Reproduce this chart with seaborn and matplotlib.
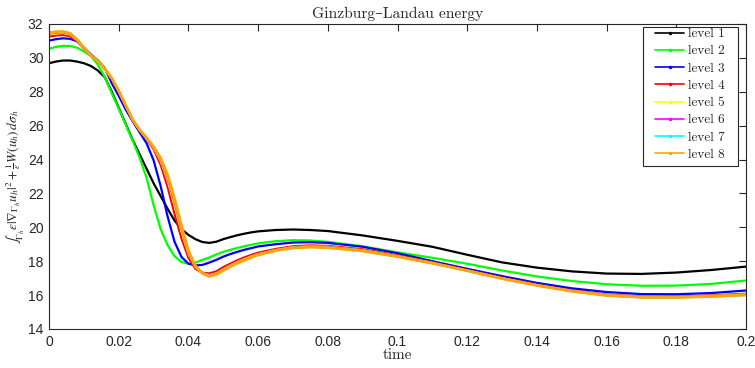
import numpy as np
import pandas as pd
import matplotlib
matplotlib.use("Agg")
import matplotlib.pyplot as plt
from matplotlib.lines import Line2D
from matplotlib.patches import Rectangle
import seaborn as sns

# time samples (s): fine steps through the fast transient, coarser afterwards
times = [0.000, 0.002, 0.004, 0.006, 0.008, 0.010, 0.012, 0.014, 0.016, 0.018,
         0.020, 0.022, 0.024, 0.026, 0.028, 0.030, 0.032, 0.034, 0.036, 0.038,
         0.040, 0.042, 0.044, 0.046, 0.048, 0.050, 0.052, 0.054, 0.056, 0.058,
         0.060, 0.065, 0.070, 0.075, 0.080, 0.090, 0.100, 0.110, 0.120, 0.130,
         0.140, 0.150, 0.160, 0.170, 0.180, 0.190, 0.200]

# discrete Ginzburg-Landau energy per refinement level
level1 = [29.68, 29.78, 29.84, 29.84, 29.78, 29.68, 29.52, 29.25, 28.85, 28.00,
          27.05, 26.10, 25.15, 24.30, 23.45, 22.60, 21.85, 21.10, 20.40, 19.90,
          19.55, 19.30, 19.13, 19.08, 19.15, 19.30, 19.42, 19.53, 19.62, 19.70,
          19.76, 19.84, 19.87, 19.84, 19.78, 19.52, 19.20, 18.85, 18.38, 17.93,
          17.62, 17.40, 17.27, 17.25, 17.33, 17.48, 17.68]
level2 = [30.53, 30.65, 30.70, 30.70, 30.60, 30.38, 30.10, 29.60, 28.85, 27.90,
          27.00, 26.05, 25.10, 24.10, 22.90, 21.30, 19.90, 18.95, 18.30, 17.95,
          17.85, 17.92, 18.08, 18.22, 18.40, 18.55, 18.67, 18.78, 18.88, 18.97,
          19.05, 19.18, 19.24, 19.22, 19.14, 18.88, 18.52, 18.20, 17.85, 17.45,
          17.10, 16.83, 16.64, 16.55, 16.56, 16.66, 16.86]
level3 = [31.02, 31.10, 31.15, 31.12, 30.98, 30.60, 30.20, 29.85, 29.40, 28.50,
          27.75, 26.95, 26.25, 25.60, 24.95, 23.95, 22.45, 20.65, 19.15, 18.25,
          17.85, 17.75, 17.78, 17.92, 18.08, 18.27, 18.42, 18.55, 18.67, 18.77,
          18.87, 19.00, 19.10, 19.12, 19.08, 18.85, 18.47, 18.00, 17.55, 17.12,
          16.72, 16.40, 16.18, 16.06, 16.05, 16.12, 16.27]
level4 = [31.25, 31.32, 31.35, 31.28, 31.00, 30.55, 30.15, 29.80, 29.35, 28.75,
          27.98, 27.15, 26.32, 25.72, 25.22, 24.60, 23.70, 22.40, 20.80, 19.35,
          18.20, 17.55, 17.32, 17.28, 17.40, 17.65, 17.85, 18.05, 18.22, 18.37,
          18.50, 18.72, 18.88, 18.93, 18.90, 18.70, 18.35, 17.93, 17.48, 17.03,
          16.62, 16.28, 16.03, 15.92, 15.91, 15.98, 16.08]
level5 = [31.38, 31.44, 31.46, 31.37, 31.05, 30.58, 30.15, 29.80, 29.35, 28.78,
          28.02, 27.18, 26.34, 25.74, 25.25, 24.68, 23.92, 22.80, 21.30, 19.75,
          18.42, 17.65, 17.30, 17.18, 17.28, 17.53, 17.75, 17.95, 18.12, 18.28,
          18.42, 18.66, 18.83, 18.87, 18.85, 18.65, 18.30, 17.90, 17.45, 17.00,
          16.59, 16.25, 16.00, 15.89, 15.88, 15.95, 16.04]
level6 = [31.43, 31.49, 31.51, 31.41, 31.06, 30.59, 30.15, 29.80, 29.35, 28.79,
          28.04, 27.19, 26.35, 25.75, 25.26, 24.72, 24.00, 22.95, 21.50, 19.92,
          18.50, 17.68, 17.29, 17.14, 17.25, 17.50, 17.72, 17.92, 18.08, 18.24,
          18.40, 18.64, 18.81, 18.85, 18.83, 18.63, 18.29, 17.89, 17.44, 16.99,
          16.58, 16.24, 15.99, 15.88, 15.87, 15.93, 16.02]
level7 = [31.46, 31.52, 31.53, 31.43, 31.08, 30.60, 30.15, 29.80, 29.35, 28.80,
          28.05, 27.20, 26.35, 25.75, 25.27, 24.74, 24.05, 23.05, 21.62, 20.02,
          18.56, 17.70, 17.29, 17.12, 17.23, 17.47, 17.70, 17.90, 18.06, 18.23,
          18.38, 18.63, 18.80, 18.84, 18.82, 18.62, 18.28, 17.88, 17.43, 16.98,
          16.57, 16.23, 15.98, 15.87, 15.86, 15.92, 16.01]
level8 = [31.49, 31.54, 31.55, 31.45, 31.10, 30.60, 30.15, 29.80, 29.35, 28.80,
          28.05, 27.20, 26.35, 25.75, 25.28, 24.75, 24.10, 23.10, 21.70, 20.10,
          18.60, 17.72, 17.28, 17.10, 17.22, 17.45, 17.68, 17.88, 18.05, 18.22,
          18.37, 18.62, 18.78, 18.83, 18.80, 18.60, 18.27, 17.88, 17.44, 16.97,
          16.57, 16.23, 15.98, 15.87, 15.86, 15.92, 16.01]

labels = ["level 1", "level 2", "level 3", "level 4",
          "level 5", "level 6", "level 7", "level 8"]
colors = ["#000000", "#00ff00", "#0000ff", "#ff0000",
          "#ffff00", "#ff00ff", "#00ffff", "#ffa500"]
series = [level1, level2, level3, level4, level5, level6, level7, level8]

xticks = [0, 0.02, 0.04, 0.06, 0.08, 0.1, 0.12, 0.14, 0.16, 0.18, 0.2]
xticklabels = ["0", "0.02", "0.04", "0.06", "0.08", "0.1", "0.12", "0.14",
               "0.16", "0.18", "0.2"]
yticks = [14, 16, 18, 20, 22, 24, 26, 28, 30, 32]

df = pd.concat(
    [pd.DataFrame({"time": times, "energy": s, "level": lab})
     for s, lab in zip(series, labels)],
    ignore_index=True,
)

sns.set_style("white")
plt.rcParams["font.family"] = ["Liberation Sans", "DejaVu Sans"]
plt.rcParams["mathtext.fontset"] = "cm"
plt.rcParams["lines.solid_joinstyle"] = "round"

fig = plt.figure(figsize=(7.55, 3.68), dpi=100)
ax = fig.add_axes([0.065, 0.106, 0.923, 0.829])

palette = dict(zip(labels, colors))
sns.lineplot(data=df, x="time", y="energy", hue="level", palette=palette,
             hue_order=labels, linewidth=1.6, ax=ax, legend=False,
             estimator=None, sort=True)
# the finest level sits on top and reads slightly heavier
ax.get_lines()[-1].set_linewidth(2.0)

ax.set_xlim(0, 0.2)
ax.set_ylim(14, 32)
ax.set_xticks(xticks)
ax.set_xticklabels(xticklabels)
ax.set_yticks(yticks)

axis_col = "#262626"
for sp in ax.spines.values():
    sp.set_visible(True)
    sp.set_color(axis_col)
    sp.set_linewidth(0.8)
ax.tick_params(direction="in", length=5, width=0.8, color=axis_col,
               top=True, right=True, labelsize=10, labelcolor=axis_col,
               pad=4)

serif = ["cmr10", "DejaVu Serif"]
ax.set_title("Ginzburg–Landau energy", fontsize=11.2, family=serif, pad=4)
ax.set_xlabel("time", fontsize=11, family=serif, labelpad=0)
# STIX math keeps the integral sign at text size
ylab = ax.set_ylabel(
    r"$\int_{\Gamma_h}\varepsilon|\nabla_{\Gamma_h}u_h|^2+\frac{1}{\varepsilon}W(u_h)\,d\sigma_h$",
    fontsize=12, math_fontfamily="stix")
ax.yaxis.set_label_coords(-0.034, 0.5)

# legend entries without a frame; the box is drawn separately so it can
# have wider side margins than top/bottom margins
handles = [Line2D([0], [0], color=c, lw=1.2, marker=".", markersize=3)
           for c in colors]
leg = ax.legend(handles, labels, loc="upper left",
                bbox_to_anchor=(0.8695, 0.987),
                prop={"family": serif, "size": 9.5},
                frameon=False, handlelength=2.2, handletextpad=0.3,
                labelspacing=0.38, borderpad=0.0, borderaxespad=0.0)
leg.set_zorder(6)
box = Rectangle((0.852, 0.534), 0.1365, 0.456, transform=ax.transAxes,
                facecolor="white", edgecolor=axis_col, linewidth=0.8,
                zorder=5.5)
ax.add_patch(box)

# fit the y label between the figure edge and the tick labels
fig.canvas.draw()
renderer = fig.canvas.get_renderer()
ax_w = ax.get_window_extent(renderer).width
tick_left = min(t.get_window_extent(renderer).x0
                for t in ax.get_yticklabels() if t.get_visible())
gap = 1.0
space = tick_left - 2 * gap
label_x = -0.034
for fs in np.arange(12.0, 7.75, -0.25):
    ylab.set_fontsize(fs)
    ax.yaxis.set_label_coords(label_x, 0.5)
    fig.canvas.draw()
    bb = ylab.get_window_extent(renderer)
    if bb.width <= space:
        break
label_x += ((tick_left - gap) - bb.x1) / ax_w
ax.yaxis.set_label_coords(label_x, 0.5)

fig.savefig("out.png", dpi=100)
